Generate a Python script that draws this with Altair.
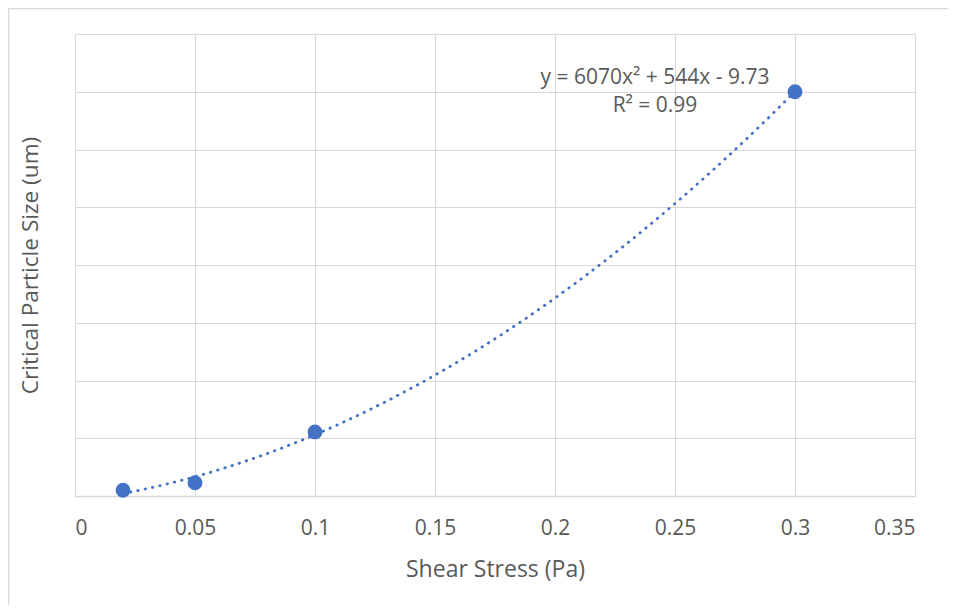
import altair as alt
import pandas as pd

# ---- data ----
shear_stress = [0.02, 0.05, 0.1, 0.3]
particle_size = [10, 23, 111, 700]
x_ticks = [0, 0.05, 0.1, 0.15, 0.2, 0.25, 0.3, 0.35]
y_ticks = [0, 100, 200, 300, 400, 500, 600, 700, 800]
equation_text = ["y = 6070x\u00b2 + 544x - 9.73"]
r2_text = ["R\u00b2 = 0.99"]
x_title = "Shear Stress (Pa)"
y_title = "Critical Particle Size (um)"

FONT = "Open Sans"
GRAY_TEXT = "#595959"
GRID = "#d9d9d9"
BLUE = "#4472C4"

df = pd.DataFrame({"x": shear_stress, "y": particle_size})

x_scale = alt.Scale(domain=[0, 0.35], nice=False, zero=True)
y_scale = alt.Scale(domain=[0, 800], nice=False)

x_enc = alt.X(
    "x:Q",
    scale=x_scale,
    axis=alt.Axis(
        values=x_ticks, format="~g", title=x_title, grid=True, gridColor=GRID,
        ticks=False, domainColor=GRID, domainWidth=1.5, labelFont=FONT,
        labelFontSize=21, labelColor=GRAY_TEXT, labelPadding=21,
        titleFont=FONT, titleFontSize=23, titleFontWeight="normal",
        titleColor=GRAY_TEXT, titlePadding=20,
    ),
)
y_enc = alt.Y(
    "y:Q",
    scale=y_scale,
    axis=alt.Axis(
        values=y_ticks, labels=False, ticks=False, domain=False, grid=True,
        gridColor=GRID, title=y_title, titleFont=FONT, titleFontSize=22.6,
        titleFontWeight="normal", titleColor=GRAY_TEXT, titlePadding=33,
    ),
)

frame = alt.Chart(pd.DataFrame({"k": [0]})).mark_rule(color=GRID, strokeWidth=1.5).encode(
    x=alt.value(-66.5), x2=alt.value(873), y=alt.value(-25.5)
)
frame_left = alt.Chart(pd.DataFrame({"k": [0]})).mark_rule(color=GRID, strokeWidth=1.5).encode(
    x=alt.value(-66.5), y=alt.value(-25.5), y2=alt.value(571)
)

points = alt.Chart(df).mark_circle(size=220, color=BLUE, opacity=1).encode(x=x_enc, y=y_enc)

trend = (
    alt.Chart(df)
    .transform_regression("x", "y", method="poly", order=2, extent=[0.02, 0.3])
    .mark_line(color=BLUE, strokeWidth=2.8, strokeDash=[0.5, 7], strokeCap="round")
    .encode(x=alt.X("x:Q", scale=x_scale), y=alt.Y("y:Q", scale=y_scale))
)

eq = alt.Chart(pd.DataFrame({"t": equation_text})).mark_text(
    font=FONT, fontSize=21, color=GRAY_TEXT, align="center", baseline="middle"
).encode(text="t:N", x=alt.value(580), y=alt.value(44))

r2 = alt.Chart(pd.DataFrame({"t": r2_text})).mark_text(
    font=FONT, fontSize=21, color=GRAY_TEXT, align="center", baseline="middle"
).encode(text="t:N", x=alt.value(580), y=alt.value(72))

chart = (
    alt.layer(frame, frame_left, trend, points, eq, r2)
    .properties(
        width=840,
        height=462,
        autosize=alt.AutoSizeParams(type="none"),
        padding={"left": 67, "top": 26, "right": 33, "bottom": 109},
    )
    .configure_view(stroke=None)
    .configure(background="white")
)

chart.save("out.html", embed_options={"renderer": "svg", "actions": False})
